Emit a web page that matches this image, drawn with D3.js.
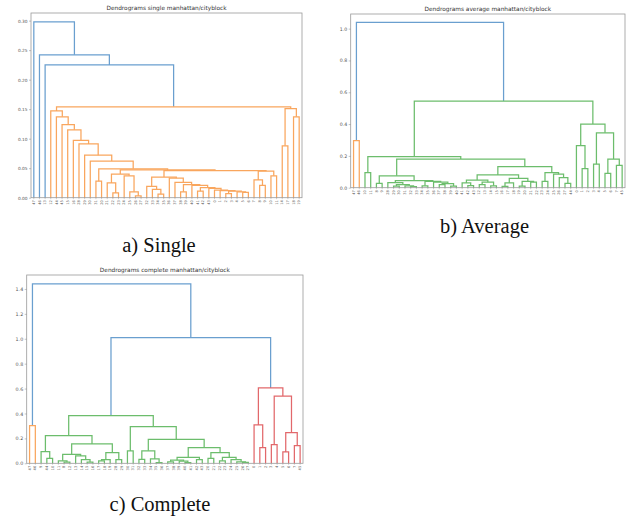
<!DOCTYPE html>
<html>
<head>
<meta charset="utf-8">
<script src="https://cdn.jsdelivr.net/npm/d3@7"></script>
<style>
  body { margin: 0; background: #fff; }
  svg { display: block; }
</style>
</head>
<body>
<script>
// trees are nested [height, left, right]; a plain number is a leaf (its position in the leaf order)

// ---- single linkage ----
const single_labels = ["47","46","13","12","44","45","15","16","28","29","30","31","20","21","22","23",
  "24","25","26","27","32","33","34","35","36","37","38","39","40","41","42","43",
  "0","1","2","3","4","5","6","7","8","9","10","11","14","17","18","19"]
const single_chain = [0.035, [0.019, 20, [0.014, 21, [0.006, 22, 23]]],
  [0.033, 24, [0.026, 25, [0.022, [0.010, 26, 27], [0.021, 28, [0.017, [0.011, 29, 30],
  [0.016, 31, [0.013, 32, [0.012, 33, [0.011, [0.007, 34, 35], [0.010, 36, [0.009, 37, 38]]]]]]]]]]]]
const single_dense = [0.049, [0.028, 11, 12],
  [0.047,
    [0.040, [0.025, 13, [0.008, 14, 15]], [0.037, 16, [0.010, 17, [0.003, 18, 19]]]],
    [0.046, single_chain, [0.045, [0.030, 39, [0.021, 40, 41]], [0.037, 42, 43]]]]]
const single_stair = [0.147, 3, [0.137, 4, [0.124, 5, [0.115, 6, [0.097, 7, [0.091, 8,
  [0.072, 9, [0.062, 10, single_dense]]]]]]]]
const single_right = [0.151, [0.088, 44, 45], [0.137, 46, 47]]
const single_tree = [0.298, 0, [0.242, 1, [0.225, 2, [0.154, single_stair, single_right]]]]
const single_ticks = [0, 0.05, 0.10, 0.15, 0.20, 0.25, 0.30]

// ---- average linkage ----
const average_labels = ["47","46","10","11","8","9","28","29","30","31","32","33","34","35","36","37",
  "38","39","40","41","42","43","12","13","14","15","16","17","18","19","20","21",
  "22","23","24","25","26","27","44","0","1","2","3","4","5","6","7","45"]
const average_left = [0.075, [0.027, 4, 5],
  [0.045,
    [0.032, 6, [0.020, [0.010, 7, 8], [0.012, 9, [0.006, 10, 11]]]],
    [0.040, [0.012, 12, 13], [0.035, 14, [0.025, [0.020, 15, 16], [0.010, 17, 18]]]]]]
const average_mid = [0.132,
  [0.080,
    [0.048, [0.030, 19, [0.013, 20, 21]], [0.035, [0.020, 22, 23], [0.012, 24, 25]]],
    [0.058, [0.030, [0.008, 26, 27], 28], [0.040, [0.010, 29, 30], [0.035, 31, 32]]]],
  [0.094, [0.040, 33, 34], [0.085, 35, [0.063, 36, [0.027, 37, 38]]]]]
const average_right = [0.400, [0.264, 39, [0.120, 40, 41]],
  [0.345, [0.148, 42, 43], [0.180, [0.090, 44, 45], [0.140, 46, 47]]]]
const average_tree = [1.04, [0.296, 0, 1],
  [0.545, [0.195, [0.094, 2, 3], [0.180, average_left, average_mid]], average_right]]
const average_ticks = [0, 0.2, 0.4, 0.6, 0.8, 1.0]

// ---- complete linkage ----
const complete_labels = ["47","46","9","44","10","11","8","12","13","14","15","16","17","18","19","28",
  "29","30","31","32","33","34","35","36","37","38","39","40","41","42","43","20",
  "21","22","23","24","25","26","27","0","1","2","3","4","5","6","7","45"]
const complete_g1 = [0.222, [0.094, 2, [0.040, 3, 4]],
  [0.155,
    [0.072, [0.020, 5, [0.010, 6, 7]], [0.059, 8, [0.030, 9, [0.010, 10, 11]]]],
    [0.086, [0.030, [0.020, 12, 13], 14], [0.030, 15, 16]]]]
const complete_g2 = [0.294, [0.099, 17, 18],
  [0.193,
    [0.100, [0.032, 19, 20], [0.035, 21, [0.005, 22, 23]]],
    [0.126,
      [0.048, [0.025, [0.012, 24, 25], [0.018, 26, [0.005, 27, 28]]], [0.030, 29, 30]],
      [0.086, [0.040, 31, 32], [0.048, [0.020, 33, 34], [0.030, 35, [0.012, 36, [0.008, 37, 38]]]]]]]]
const complete_red = [0.605, [0.308, 39, [0.126, 40, 41]],
  [0.540, [0.150, 42, 43], [0.246, [0.091, 44, 45], [0.142, 46, 47]]]]
const complete_tree = [1.44, [0.302, 0, 1], [1.01, [0.383, complete_g1, complete_g2], complete_red]]
const complete_ticks = [0, 0.2, 0.4, 0.6, 0.8, 1.0, 1.2, 1.4]

const svg = d3.select("body").append("svg")
    .attr("width", 632)
    .attr("height", 518)

// matplotlib tab colours, a bit washed out like the scanned figure
const palette = ["#f9a65e", "#6cbd6c", "#e2686b"]
const aboveColor = "#6a9fcf"

function drawDendrogram(p) {
    const g = svg.append("g").attr("transform", `translate(${p.left}, ${p.top})`)

    const root = d3.hierarchy(p.tree, d => Array.isArray(d) ? d.slice(1) : null)
    const leaves = root.leaves()
    const maxH = p.tree[0]

    const x = d3.scaleBand()
        .domain(leaves.map(d => d.data))
        .range([0, p.width])
    const y = d3.scaleLinear()
        .domain([0, maxH * 1.05])
        .range([p.height, 0])

    root.eachAfter(d => {
        if (d.children) {
            d.h = d.data[0]
            d.px = (d.children[0].px + d.children[1].px) / 2
        } else {
            d.h = 0
            d.px = x(d.data) + x.bandwidth() / 2
        }
    })

    // same rule as scipy: above 0.7*max is blue, each cluster below gets the next colour
    const threshold = 0.7 * maxH
    let k = 0
    root.eachBefore(d => {
        if (!d.children) return
        if (d.h > threshold) d.color = aboveColor
        else if (d.parent && d.parent.color !== aboveColor) d.color = d.parent.color
        else d.color = palette[k++ % palette.length]
    })

    g.selectAll(".link")
        .data(root.descendants().filter(d => d.children))
        .join("path")
        .attr("class", "link")
        .attr("d", d => {
            const [a, b] = d.children
            return `M${a.px},${y(a.h)}V${y(d.h)}H${b.px}V${y(b.h)}`
        })
        .attr("fill", "none")
        .attr("stroke", d => d.color)
        .attr("stroke-width", 1.25)

    g.append("rect")
        .attr("width", p.width)
        .attr("height", p.height)
        .attr("fill", "none")
        .attr("stroke", "#9a9a9a")
        .attr("stroke-width", 0.8)

    const yAxis = g.append("g")
        .call(d3.axisLeft(y).tickValues(p.ticks).tickFormat(d3.format(p.fmt)).tickSize(2).tickPadding(1.5))
    yAxis.select(".domain").remove()
    yAxis.selectAll("line").attr("stroke", "#888").attr("stroke-width", 0.5)
    yAxis.selectAll("text")
        .attr("fill", "#555")
        .style("font-family", "DejaVu Sans")
        .style("font-size", p.tickFont + "px")

    const xAxis = g.append("g")
        .attr("transform", `translate(0, ${p.height})`)
        .call(d3.axisBottom(x).tickFormat(i => p.labels[i]).tickSize(1.5).tickPadding(0))
    xAxis.select(".domain").remove()
    xAxis.selectAll("line").attr("stroke", "#888").attr("stroke-width", 0.4)
    xAxis.selectAll("text")
        .attr("transform", "rotate(-90)")
        .attr("text-anchor", "end")
        .attr("dy", "0.32em")
        .attr("x", -2.5)
        .attr("y", 0)
        .attr("fill", "#555")
        .style("font-family", "DejaVu Sans")
        .style("font-size", "3.6px")

    g.append("text")
        .attr("x", p.width / 2)
        .attr("y", -3)
        .attr("text-anchor", "middle")
        .attr("fill", "#333")
        .style("font-family", "DejaVu Sans")
        .style("font-size", "5.8px")
        .text(p.title)

    svg.append("text")
        .attr("x", p.capX)
        .attr("y", p.capY)
        .attr("text-anchor", "middle")
        .attr("fill", "#111")
        .style("font-family", "Liberation Serif")
        .style("font-size", "20.5px")
        .text(p.caption)
}

drawDendrogram({
    tree: single_tree, labels: single_labels, ticks: single_ticks, fmt: ".2f", tickFont: 4.3,
    left: 31, top: 13, width: 271, height: 184.7,
    title: "Dendrograms single manhattan/cityblock",
    caption: "a) Single", capX: 159, capY: 252
})
drawDendrogram({
    tree: average_tree, labels: average_labels, ticks: average_ticks, fmt: ".1f", tickFont: 4.7,
    left: 350.7, top: 14, width: 274.3, height: 173.7,
    title: "Dendrograms average manhattan/cityblock",
    caption: "b) Average", capX: 484.5, capY: 233
})
drawDendrogram({
    tree: complete_tree, labels: complete_labels, ticks: complete_ticks, fmt: ".1f", tickFont: 4.8,
    left: 26.7, top: 275, width: 276.3, height: 188.3,
    title: "Dendrograms complete manhattan/cityblock",
    caption: "c) Complete", capX: 160, capY: 511
})
</script>
</body>
</html>
